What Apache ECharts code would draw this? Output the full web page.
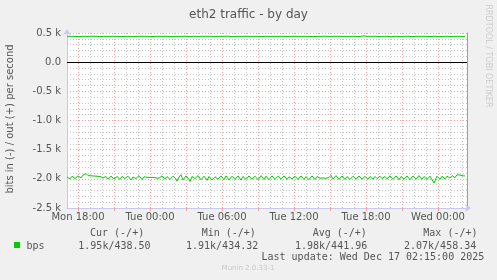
<!DOCTYPE html>
<html>
<head>
<meta charset="utf-8">
<script src="https://cdn.jsdelivr.net/npm/echarts@6/dist/echarts.min.js"></script>
<style>
html,body{margin:0;padding:0;background:#f0f0f0;}
#c{width:497px;height:280px;}
</style>
</head>
<body>
<div id="c"></div>
<script>
// ---- data (bits per second), 5-minute samples from Mon 17:05 to Wed 02:15 ----
const sampleStartHour = 17 + 5 / 60;   // hours since Mon 00:00
const sampleStepHour = 5 / 60;
const inBps = [
  -1970,-1950,-1975,-2000,-1985,-1955,-1945,-1970,-1995,-2010,-1980,-1950,-1940,-1965,-1985,-1960,-1935,-1920,-1930,-1910,
  -1935,-1945,-1950,-1952,-1948,-1950,-1955,-1952,-1948,-1950,-1955,-1950,-1955,-1960,-1955,-1965,-1985,-1995,-1970,-1960,
  -1975,-2005,-2015,-1985,-1955,-1945,-1970,-2000,-2020,-1990,-1960,-1950,-1975,-2010,-1995,-1960,-1935,-1960,-1995,-2010,
  -1980,-1955,-1950,-1985,-2020,-2005,-1970,-1950,-1960,-1995,-2015,-1985,-1945,-1940,-1975,-2010,-2000,-1965,-1955,-1985,
  -1975,-1970,-1972,-1975,-1972,-1978,-1975,-1980,-1978,-1985,-1970,-1960,-1990,-2015,-1985,-1950,-1945,-1975,-2005,-1990,
  -1960,-1940,-1970,-2010,-2030,-1995,-1955,-1935,-1965,-2000,-2040,-2010,-1970,-1945,-1930,-1975,-2020,-2035,-1990,-1950,
  -1935,-1965,-2010,-2045,-2005,-1960,-1930,-1950,-1995,-2025,-1985,-1945,-1930,-1970,-2015,-2030,-1990,-1955,-1940,-1985,
  -2025,-2000,-1960,-1935,-1970,-2020,-2050,-2010,-1965,-1940,-1960,-2005,-2030,-1990,-1950,-1935,-1975,-2015,-1995,-1950,
  -1940,-1975,-2020,-2035,-1995,-1955,-1935,-1965,-2010,-2030,-1985,-1950,-1940,-1980,-2020,-2000,-1960,-1940,-1970,-2010,
  -2025,-1990,-1950,-1930,-1960,-2005,-2035,-1995,-1955,-1940,-1975,-2015,-2025,-1985,-1945,-1935,-1970,-2010,-1990,-1955,
  -1945,-1980,-2015,-2025,-1990,-1950,-1935,-1970,-2010,-2030,-1995,-1955,-1940,-1965,-2005,-2020,-1985,-1950,-1945,-1980,
  -2010,-2000,-1965,-1945,-1960,-2000,-2020,-1990,-1955,-1940,-1970,-2010,-2025,-1985,-1950,-1945,-1975,-2010,-1995,-1960,
  -1945,-1975,-2015,-2020,-1985,-1950,-1945,-1980,-2010,-1995,-1960,-1975,-1985,-1988,-1985,-1990,-1986,-1990,-1985,-1990,
  -1988,-1992,-1975,-1950,-1940,-1970,-2005,-2020,-1985,-1945,-1935,-1965,-2010,-2025,-1990,-1950,-1945,-1980,-2010,-1995,
  -1960,-1945,-1975,-2010,-2030,-1995,-1955,-1940,-1965,-2005,-2020,-1985,-1950,-1945,-1975,-2005,-2015,-1985,-1960,-1970,
  -1990,-2005,-1985,-1960,-1965,-1990,-2005,-1985,-1960,-1970,-1995,-2000,-1975,-1955,-1965,-1995,-2010,-1985,-1960,-1975,
  -2000,-2015,-1985,-1950,-1940,-1970,-2010,-2020,-1985,-1950,-1945,-1975,-2015,-2000,-1960,-1940,-1965,-2005,-2020,-1980,
  -1950,-1940,-1975,-2015,-2030,-1990,-1950,-1930,-1960,-2005,-2025,-1985,-1945,-1935,-1970,-2010,-2000,-1960,-1950,-1985,
  -2010,-2020,-1980,-1955,-1975,-2015,-2040,-2070,-2035,-1990,-1955,-1945,-1980,-2010,-1990,-1955,-1940,-1965,-2000,-1985,
  -1955,-1940,-1960,-1985,-1970,-1945,-1935,-1960,-1980,-1955,-1930,-1925,-1950,-1935,-1910,-1925,-1950,-1960,-1950
];
const outBps = [
  443,444,442,443,436,444,443,445,443,442,444,443,437,443,444,442,443,445,443,444,
  443,442,444,443,445,443,438,444,443,442,443,444,443,436,443,445,443,442,444,443,
  444,443,442,437,443,444,443,445,442,443,444,443,442,443,436,444,443,442,445,443,
  443,445,443,442,444,443,437,443,444,442,443,444,445,443,442,443,438,444,443,442,
  442,443,444,443,436,443,445,442,443,444,443,442,444,443,443,437,443,442,444,443,
  444,443,442,443,445,437,443,444,442,443,444,443,436,443,442,444,443,445,443,442,
  443,442,444,436,443,444,443,442,445,443,444,443,442,437,443,444,443,442,443,445,
  443,444,442,443,444,443,437,442,443,445,443,442,444,443,436,443,444,442,443,444,
  442,443,445,443,442,436,444,443,442,443,444,443,445,437,443,442,444,443,442,443,
  444,443,442,443,444,443,442,445,436,443,444,442,443,444,443,437,442,443,444,443,
  443,442,436,444,443,442,445,443,444,443,442,443,437,444,443,442,443,445,443,442,
  444,443,442,443,437,444,443,442,443,445,443,444,436,443,442,443,444,443,442,443,
  443,445,443,442,444,443,436,443,444,442,443,444,443,437,442,443,444,443,445,443,
  442,443,444,443,442,437,443,444,443,442,445,443,444,443,436,443,442,444,443,442,
  443,444,443,436,443,442,444,443,445,443,442,437,443,444,443,442,448,452,458,446,
  443,442,444,443,437,443,444,442,443,445,443,442,436,444,443,442,443,444,443,442,
  444,443,442,443,434,444,443,442,445,443,444,443,442,437,443,444,443,442,443,444,
  443,442,444,443,442,436,443,444,443,442,445,443,444,437,443,442,444,443,442,443,
  442,443,444,437,443,442,443,445,443,444,442,443,436,444,443,442,443,444,443,442,
  443,444,442,443,437,443,444,442,443,445,443,436,443,444,442,443,440,439,438.5
];
// x axis (hours since Mon 00:00)
const xMin = 17 + 5 / 60;
const xMax = 50 + 25 / 60;
const xLabelHours = [18, 24, 30, 36, 42, 48];
const xLabelTexts = ['Mon 18:00', 'Tue 00:00', 'Tue 06:00', 'Tue 12:00', 'Tue 18:00', 'Wed 00:00'];
const xMajorHours = [18, 21, 24, 27, 30, 33, 36, 39, 42, 45, 48];
const xMinorHours = [19, 20, 22, 23, 25, 26, 28, 29, 31, 32, 34, 35, 37, 38, 40, 41, 43, 44, 46, 47, 49, 50];
// y axis
const yMin = -2500, yMax = 500, yStep = 500;
// legend / stats
const seriesName = 'bps';
const statHeaders = ['Cur (-/+)', 'Min (-/+)', 'Avg (-/+)', 'Max (-/+)'];
const statValues = ['1.95k/438.50', '1.91k/434.32', '1.98k/441.96', '2.07k/458.34'];
const titleText = 'eth2 traffic - by day';
const yTitle = 'bits in (-) / out (+) per second';
const lastUpdate = 'Last update: Wed Dec 17 02:15:00 2025';
const footer = 'Munin 2.0.33-1';
const sideText = 'RRDTOOL / TOBI OETIKER';

const toPts = arr => arr.map((v, i) => [sampleStartHour + i * sampleStepHour, v]);

const SANS = '"DejaVu Sans", sans-serif';
const MONO = '"DejaVu Sans Mono", monospace';
const GREEN = '#00cc00';
const MAJ = '#f4a0a0';
const MIN = '#c8c8c8';

const gridLines = [];
xMajorHours.forEach(h => gridLines.push({ xAxis: h, lineStyle: { color: MAJ, type: [1, 2], width: 1 } }));
xMinorHours.forEach(h => gridLines.push({ xAxis: h, lineStyle: { color: MIN, type: [1, 2], width: 1 } }));

const headerX = [90, 201.7, 312.7, 423.3];
const valueX = [78.3, 186, 295, 404];
const graphics = [];
statHeaders.forEach((t, i) => graphics.push({ type: 'text', x: headerX[i], y: 233, style: { text: t, font: '10px ' + MONO, fill: '#555', align: 'left', verticalAlign: 'middle' } }));
statValues.forEach((t, i) => graphics.push({ type: 'text', x: valueX[i], y: 246, style: { text: t, font: '10px ' + MONO, fill: '#555', align: 'left', verticalAlign: 'middle' } }));
graphics.push({ type: 'rect', shape: { x: 14, y: 242, width: 6, height: 6 }, style: { fill: GREEN } });
graphics.push({ type: 'text', x: 26.5, y: 246, style: { text: seriesName, font: '10px ' + MONO, fill: '#555', align: 'left', verticalAlign: 'middle' } });
graphics.push({ type: 'text', x: 261.5, y: 257.5, style: { text: lastUpdate, font: '10px ' + MONO, fill: '#555', align: 'left', verticalAlign: 'middle' } });
graphics.push({ type: 'text', x: 248, y: 268.5, style: { text: footer, font: '7px ' + SANS, fill: '#c8c8c8', align: 'center', verticalAlign: 'middle' } });
graphics.push({ type: 'text', x: 10, y: 119, rotation: Math.PI / 2, style: { text: yTitle, font: '10px ' + SANS, fill: '#555', align: 'center', verticalAlign: 'middle' } });
graphics.push({ type: 'text', x: 488, y: 56, rotation: -Math.PI / 2, style: { text: sideText, font: '8px ' + SANS, fill: '#cccccc', align: 'center', verticalAlign: 'middle' } });

const chart = echarts.init(document.getElementById('c'), null, { renderer: 'canvas' });
chart.setOption({
  animation: false,
  backgroundColor: '#f0f0f0',
  title: { text: titleText, left: 'center', top: 4, textStyle: { fontFamily: SANS, fontSize: 12, fontWeight: 'normal', color: '#555' } },
  grid: { left: 67, right: 30, top: 33, bottom: 72, show: true, backgroundColor: '#ffffff', borderWidth: 0 },
  xAxis: {
    type: 'value', min: xMin, max: xMax,
    axisLine: { show: true, onZero: false, lineStyle: { color: '#c8c8f0', width: 1 }, symbol: ['none', 'arrow'], symbolSize: [6, 6], symbolOffset: [0, 4] },
    axisTick: { show: true, customValues: xMajorHours, length: 3, lineStyle: { color: MAJ } },
    axisLabel: {
      customValues: xLabelHours, margin: 4, color: '#555', fontFamily: SANS, fontSize: 10,
      formatter: v => { const i = xLabelHours.indexOf(Math.round(v)); return i >= 0 ? xLabelTexts[i] : ''; }
    },
    splitLine: { show: false }
  },
  yAxis: [{
    type: 'value', min: yMin, max: yMax, interval: yStep,
    axisLine: { show: true, onZero: false, lineStyle: { color: '#c8c8f0', width: 1 }, symbol: ['none', 'arrow'], symbolSize: [6, 6], symbolOffset: [0, 4] },
    axisTick: { show: false },
    axisLabel: { margin: 6, color: '#555', fontFamily: SANS, fontSize: 10,
      formatter: v => v === 0 ? '0.0' : (v / 1000).toFixed(1) + ' k' },
    splitLine: { show: true, lineStyle: { color: MAJ, type: [1, 2] } },
    minorTick: { show: false, splitNumber: 5 },
    minorSplitLine: { show: true, lineStyle: { color: MIN, type: [1, 2] } }
  }, {
    type: 'value', min: yMin, max: yMax, interval: yStep, position: 'right',
    axisLine: { show: true, onZero: false, lineStyle: { color: '#a0a0a0', width: 1 } },
    axisTick: { show: false }, axisLabel: { show: false }, splitLine: { show: false }
  }],
  graphic: graphics,
  series: [
    {
      type: 'line', data: [[xMin, 0]], showSymbol: false, silent: true, lineStyle: { opacity: 0 }, z: 1,
      markLine: { silent: true, symbol: 'none', z: 1, label: { show: false }, animation: false, data: gridLines }
    },
    {
      type: 'line', name: 'in', data: toPts(inBps), showSymbol: false, silent: true, z: 10,
      lineStyle: { color: GREEN, width: 1 },
      markLine: { silent: true, symbol: 'none', z: 6, label: { show: false }, animation: false,
        data: [{ yAxis: 0, lineStyle: { color: '#000', type: 'solid', width: 1 } }] }
    },
    {
      type: 'line', name: 'out', data: toPts(outBps), showSymbol: false, silent: true, z: 10,
      lineStyle: { color: GREEN, width: 1 }
    }
  ]
});
</script>
</body>
</html>
